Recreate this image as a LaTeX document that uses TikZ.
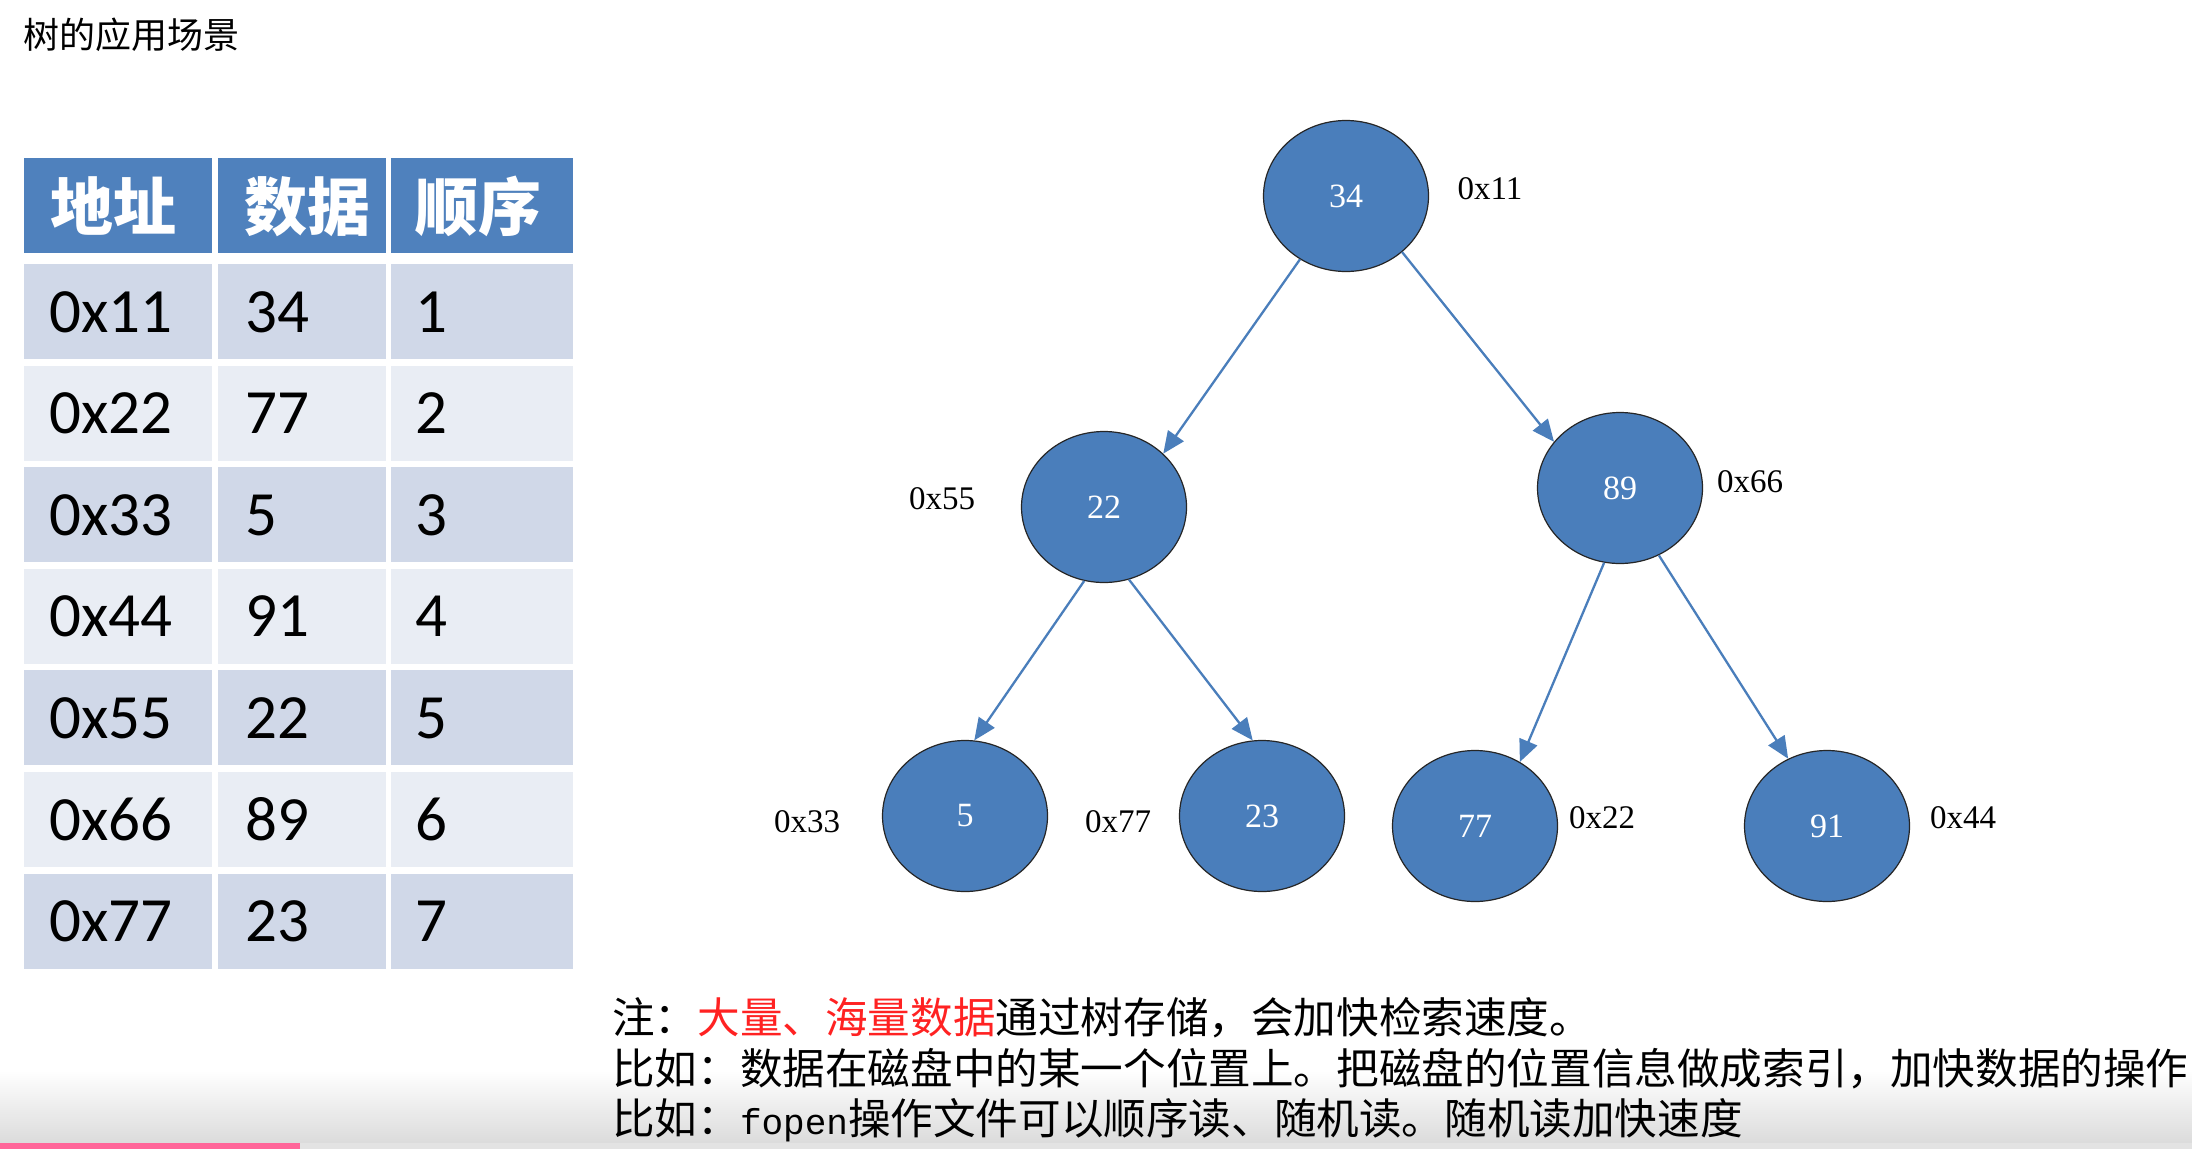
\documentclass[tikz,border=0pt]{standalone}
\usepackage{fontspec}
\setmainfont{Liberation Serif}
\newfontfamily\cjk{Noto Sans CJK SC}
\newfontfamily\tabfont{Carlito}
\newfontfamily\monofont{Liberation Mono}
\usetikzlibrary{shapes.geometric,arrows.meta}
\definecolor{hdr}{HTML}{4F81BD}
\definecolor{rowdark}{HTML}{D0D8E8}
\definecolor{rowlight}{HTML}{E9EDF4}
\definecolor{nodeblue}{HTML}{4A7EBB}
\definecolor{edgeblue}{HTML}{4A7EBB}
\definecolor{notered}{HTML}{FF2222}
\definecolor{pinkbar}{HTML}{FF6699}
\begin{document}
\begin{tikzpicture}[x=1pt,y=-1pt,
  hdrtext/.style={anchor=base west, inner sep=0pt, text=white, font=\cjk\bfseries\fontsize{63}{70}\selectfont},
  tabtext/.style={anchor=base west, inner sep=0pt, text=black, font=\tabfont\fontsize{63}{70}\selectfont},
  tnode/.style={ellipse, draw=black!85, line width=1.2pt, fill=nodeblue, minimum width=165pt, minimum height=151pt, inner sep=0pt, text=white, font=\fontsize{34}{40}\selectfont},
  addr/.style={inner sep=0pt, text=black, font=\fontsize{33}{38}\selectfont},
  edge/.style={draw=edgeblue, line width=2.3pt, -{Triangle[length=22pt,width=19pt]}},
  note/.style={anchor=base west, inner sep=0pt, text=black, font=\cjk\fontsize{42.6}{50}\selectfont}]
\useasboundingbox (0,0) rectangle (2192,1149);
\fill[white] (0,0) rectangle (2192,1149);

% title
\node[anchor=base west, inner sep=0pt, font=\cjk\fontsize{36}{42}\selectfont] (title) at (23,48) {树的应用场景};

% table header
\fill[hdr] (24,158) rectangle (212,253);
\fill[hdr] (218,158) rectangle (386,253);
\fill[hdr] (391,158) rectangle (573,253);
\node[hdrtext] (h1) at (50,230) {地址};
\node[hdrtext] (h2) at (244,230) {数据};
\node[hdrtext] (h3) at (415,230) {顺序};

% table body
\foreach \i/\a/\d/\o/\c in {1/0x11/34/1/rowdark, 2/0x22/77/2/rowlight, 3/0x33/5/3/rowdark, 4/0x44/91/4/rowlight, 5/0x55/22/5/rowdark, 6/0x66/89/6/rowlight, 7/0x77/23/7/rowdark}{
  \pgfmathsetmacro\rt{264+(\i-1)*101.6}
  \fill[\c] (24,\rt) rectangle (212,{\rt+95});
  \fill[\c] (218,\rt) rectangle (386,{\rt+95});
  \fill[\c] (391,\rt) rectangle (573,{\rt+95});
  \node[tabtext] (a\i) at (49,{\rt+68}) {\a};
  \node[tabtext] (d\i) at (245,{\rt+68}) {\d};
  \node[tabtext] (o\i) at (415,{\rt+68}) {\o};
}

% tree
\node[tnode] (n34) at (1346,196) {34};
\node[tnode] (n22) at (1104,507) {22};
\node[tnode] (n89) at (1620,488) {89};
\node[tnode] (n5) at (965,816) {5};
\node[tnode] (n23) at (1262,816) {23};
\node[tnode] (n77) at (1475,826) {77};
\node[tnode] (n91) at (1827,826) {91};

\node[addr] (l11) at (1490,189) {0x11};
\node[addr] (l55) at (942,499) {0x55};
\node[addr] (l66) at (1750,482) {0x66};
\node[addr] (l33) at (807,822) {0x33};
\node[addr] (l77) at (1118,822) {0x77};
\node[addr] (l22) at (1602,818) {0x22};
\node[addr] (l44) at (1963,818) {0x44};

\draw[edge] (n34.234) -- (n22.42);
\draw[edge] (n34.315) -- (n89.145);
\draw[edge] (n22.255) -- (n5.83);
\draw[edge] (n22.289) -- (n23.97);
\draw[edge] (n89.258) -- (n77.55);
\draw[edge] (n89.300) -- (n91.120);

% bottom band
\shade[top color=white, bottom color=black!14] (0,1070) rectangle (2192,1143);
\fill[pinkbar] (0,1143) rectangle (300,1149);
\fill[black!11] (300,1143) rectangle (2192,1149);

% notes
\node[note] (note1) at (612,1033) {注：\textcolor{notered}{大量、海量数据}通过树存储，会加快检索速度。};
\node[note] (note2) at (612,1084) {比如：数据在磁盘中的某一个位置上。把磁盘的位置信息做成索引，加快数据的操作};
\node[note] (note3) at (612,1134) {比如：{\monofont\fontsize{36}{40}\selectfont fopen}操作文件可以顺序读、随机读。随机读加快速度};
\end{tikzpicture}
\end{document}
